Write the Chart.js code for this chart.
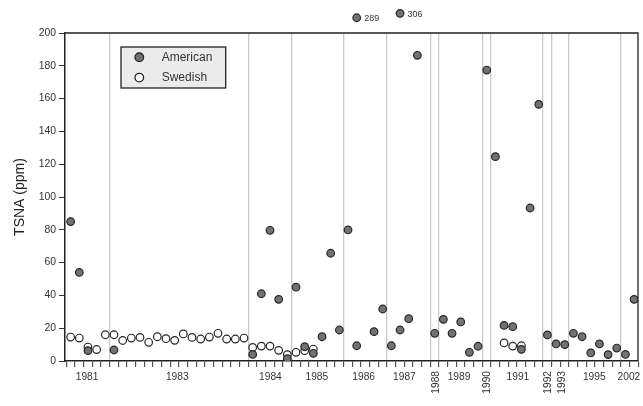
<!DOCTYPE html>
<html><head><meta charset="utf-8">
<script src="https://cdn.jsdelivr.net/npm/chart.js@4"></script>
<style>html,body{margin:0;padding:0;background:#fff}#wrap{width:643px;height:406px}</style>
</head><body><div id="wrap"><canvas id="c" width="643" height="406"></canvas></div>
<script>
// ---- data (x = sample slot along the time axis, y = TSNA ppm) ----
const americanSlot = [0,1,2,5,21,22,23,24,25,26,27,28,29,30,31,32,33,35,36,37,38,39,40,
  42,43,44,45,46,47,48,49,50,51,52,53,54,55,56,57,58,59,60,61,62,63,64,65];
const americanTSNA = [85,54,6.3,6.7,4,41,79.7,37.6,1.4,45,8.7,4.7,14.8,65.7,18.9,79.9,9.3,17.9,31.7,9.3,18.9,25.8,186.4,
  16.9,25.4,16.9,23.8,5.3,9,177.4,124.6,21.7,20.9,7.1,93.3,156.5,15.9,10.4,10,16.9,14.8,4.9,10.4,3.9,7.9,4,37.6];
const offScaleSlot = [33,38];
const offScaleTSNA = [289,306];
const swedishSlot = [0,1,2,3,4,5,6,7,8,9,10,11,12,13,14,15,16,17,18,19,20,21,22,23,24,25,26,27,28,50,51,52];
const swedishTSNA = [14.6,14,8.5,7,16,16,12.5,14,14.4,11.4,14.8,13.6,12.6,16.5,14.4,13.4,14.6,16.9,13.4,13.4,14,
  8.3,9.1,9.1,6.5,3.9,5.3,6.3,7.3,11,9.1,9.3];
const yearLabels = ['1981','1983','1984','1985','1986','1987','1988','1989','1990','1991','1992','1993','1995','2002'];
const yearLabelSlot = [1.9,12.3,23.05,28.4,33.8,38.5,42.15,44.8,48.1,51.6,55.05,56.7,60.4,64.4];
const yearLabelVertical = [false,false,false,false,false,false,true,false,true,false,true,true,false,false];
const yearDividers = [4.5,20.5,25.5,31.5,36.5,41.5,42.5,47.5,48.5,54.5,55.5,57.5,63.5];
const slotCount = 66;
const tickBoundaries = Array.from({length: slotCount + 1}, (_, i) => i - 0.5);
const yTicksStep = 20;

const FONT = "'Liberation Sans', Arial, sans-serif";
const toPts = (s, v) => s.map((x, i) => ({x, y: v[i]}));
const darkFill = '#727272', edge = '#262626';

const extras = {
  id: 'extras',
  afterDatasetsDraw(chart) {
    // off-scale points sit above the plot frame; draw them without area clipping
    const ctx = chart.ctx;
    chart.getDatasetMeta(1).data.forEach(pt => pt.draw(ctx));
  },
  afterDraw(chart) {
    const {ctx, chartArea: a, scales} = chart;
    const xs = scales.x;
    ctx.save();
    // top + right frame
    ctx.strokeStyle = '#222'; ctx.lineWidth = 1.3;
    ctx.beginPath();
    ctx.moveTo(a.left, a.top); ctx.lineTo(a.right, a.top); ctx.lineTo(a.right, a.bottom);
    ctx.stroke();
    // year labels
    ctx.fillStyle = '#333';
    ctx.font = '10.2px ' + FONT;
    yearLabels.forEach((t, i) => {
      const x = xs.getPixelForValue(yearLabelSlot[i]);
      if (yearLabelVertical[i]) {
        ctx.save();
        ctx.translate(x, a.bottom + 10);
        ctx.rotate(-Math.PI / 2);
        ctx.textAlign = 'right'; ctx.textBaseline = 'middle';
        ctx.fillText(t, 0, 0);
        ctx.restore();
      } else {
        ctx.textAlign = 'center'; ctx.textBaseline = 'middle';
        ctx.fillText(t, x, a.bottom + 16);
      }
    });
    // off-scale value labels
    const meta = chart.getDatasetMeta(1);
    ctx.font = '9px ' + FONT; ctx.textAlign = 'left'; ctx.textBaseline = 'middle';
    meta.data.forEach((pt, i) => {
      ctx.fillText(String(offScaleTSNA[i]), pt.x + 7.5, pt.y + 1);
    });
    // legend
    const bx = a.left + 56, by = a.top + 14, bw = 104.7, bh = 41;
    ctx.fillStyle = '#ebebeb'; ctx.fillRect(bx, by, bw, bh);
    ctx.strokeStyle = '#222'; ctx.lineWidth = 1.3; ctx.strokeRect(bx, by, bw, bh);
    [chart.data.datasets[0], chart.data.datasets[2]].forEach((ds, i) => {
      const cy = by + 10.3 + i * 20.3;
      ctx.beginPath(); ctx.arc(bx + 18.3, cy, 4.3, 0, Math.PI * 2);
      ctx.fillStyle = ds.backgroundColor; ctx.fill();
      ctx.strokeStyle = ds.borderColor; ctx.lineWidth = 1.3; ctx.stroke();
      ctx.fillStyle = '#333'; ctx.font = '12px ' + FONT;
      ctx.textAlign = 'left'; ctx.textBaseline = 'middle';
      ctx.fillText(ds.label, bx + 40.7, cy + 0.5);
    });
    ctx.restore();
  }
};

const pointStyle = (fill) => ({backgroundColor: fill, borderColor: edge, borderWidth: 1.2,
  pointRadius: 3.8, pointHoverRadius: 3.8});

new Chart(document.getElementById('c'), {
  type: 'scatter',
  data: {datasets: [
    Object.assign({label: 'American', data: toPts(americanSlot, americanTSNA)}, pointStyle(darkFill)),
    Object.assign({label: 'American (off scale)', data: toPts(offScaleSlot, offScaleTSNA), yAxisID: 'yOut', clip: false}, pointStyle(darkFill)),
    Object.assign({label: 'Swedish', data: toPts(swedishSlot, swedishTSNA)}, pointStyle('#ffffff'))
  ]},
  options: {
    responsive: false, animation: false, devicePixelRatio: 1,
    layout: {padding: {top: 33, right: 3.7, bottom: 0, left: 0}},
    plugins: {legend: {display: false}, tooltip: {enabled: false}},
    scales: {
      x: {
        type: 'linear', min: -0.65, max: 65.45,
        afterBuildTicks: s => { s.ticks = tickBoundaries.map(v => ({value: v})); },
        afterFit: s => { s.height = 45; },
        ticks: {display: false},
        grid: {
          color: c => (c.tick && yearDividers.includes(c.tick.value)) ? '#cacaca' : 'rgba(0,0,0,0)',
          lineWidth: 1.3, tickColor: '#333', tickWidth: 1, tickLength: 6,
          drawOnChartArea: true, drawTicks: true
        },
        border: {display: true, color: '#222', width: 1.5}
      },
      y: {
        min: 0, max: 200,
        ticks: {stepSize: yTicksStep, font: {family: FONT, size: 10.4}, color: '#333', padding: 3},
        grid: {drawOnChartArea: false, tickLength: 6, color: '#333', lineWidth: 1},
        border: {color: '#222', width: 1.5},
        title: {display: true, text: 'TSNA (ppm)', font: {family: FONT, size: 14}, color: '#222', padding: {top: 12, bottom: 0}},
        afterFit: s => { s.width = 65; }
      },
      yOut: {display: false, min: -1040, max: 230}
    }
  },
  plugins: [extras]
});
</script>
</body></html>
